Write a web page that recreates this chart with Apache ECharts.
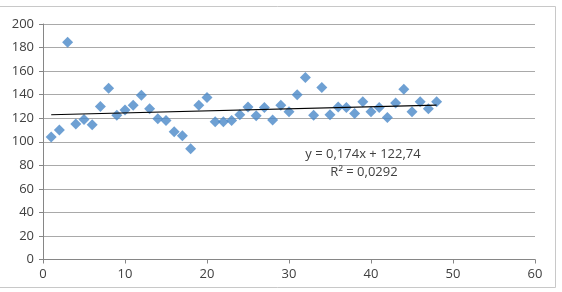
<!DOCTYPE html>
<html>
<head>
<meta charset="utf-8">
<script src="https://cdn.jsdelivr.net/npm/echarts@6/dist/echarts.min.js"></script>
<style>html,body{margin:0;padding:0;background:#fff}#c{width:562px;height:292px}</style>
</head>
<body>
<div id="c"></div>
<script>
var xValues = [1,2,3,4,5,6,7,8,9,10,11,12,13,14,15,16,17,18,19,20,21,22,23,24,25,26,27,28,29,30,31,32,33,34,35,36,37,38,39,40,41,42,43,44,45,46,47,48];
var yValues = [104,110,184.5,115,119,114.5,130,145.5,122.5,127,131,139.5,128,119.5,118,108.5,105,94,131,137.5,117,117,118,123,129.5,122,129,118.5,131,125.5,140,154.5,122.5,146,123,129.5,129,124,134,125.5,129,120.5,133,144.5,125.5,134,128,134];
var trendSlope = 0.174;
var trendIntercept = 122.74;
var trendRange = [1, 48];
var equationLines = ['y = 0,174x + 122,74', 'R² = 0,0292'];

var pts = xValues.map(function(x, i){ return [x, yValues[i]]; });
var trend = trendRange.map(function(x){ return [x, trendSlope * x + trendIntercept]; });

var chart = echarts.init(document.getElementById('c'), null, {renderer:'canvas'});
var font = '"Open Sans", "Noto Sans", sans-serif';
chart.setOption({
  animation: false,
  backgroundColor: '#fff',
  grid: {left: 43, right: 27, top: 24, bottom: 32.5, containLabel: false},
  xAxis: {
    type: 'value', min: 0, max: 60, interval: 10,
    axisLine: {show: true, lineStyle: {color: '#868686', width: 1}},
    axisTick: {show: true, length: 4, lineStyle: {color: '#868686'}},
    axisLabel: {color: '#404040', fontSize: 13, fontFamily: font, margin: 8},
    splitLine: {show: false}
  },
  yAxis: {
    type: 'value', min: 0, max: 200, interval: 20,
    axisLine: {show: true, lineStyle: {color: '#868686', width: 1}},
    axisTick: {show: true, length: 4, lineStyle: {color: '#868686'}},
    axisLabel: {color: '#404040', fontSize: 13, fontFamily: font, margin: 9},
    splitLine: {show: true, lineStyle: {color: '#a9a9a9', width: 1}}
  },
  graphic: [
    {type: 'rect', shape: {x: -1, y: 6.5, width: 556.5, height: 281}, style: {fill: 'none', stroke: '#c8c8c8', lineWidth: 1}, silent: true, z: -10},
    {type: 'text', x: 363, y: 154, style: {text: equationLines[0], fill: '#404040', font: '13px ' + font, align: 'center', verticalAlign: 'middle'}, z: 100},
    {type: 'text', x: 364, y: 172, style: {text: equationLines[1], fill: '#404040', font: '13px ' + font, align: 'center', verticalAlign: 'middle'}, z: 100}
  ],
  series: [
    {
      type: 'scatter', data: pts, symbol: 'diamond', symbolSize: [11, 11],
      itemStyle: {color: '#4a88c8'}, z: 3
    },
    {
      type: 'line', data: trend, symbol: 'none', lineStyle: {color: '#000', width: 1.2}, z: 4, silent: true
    }
  ]
});
</script>
</body>
</html>
